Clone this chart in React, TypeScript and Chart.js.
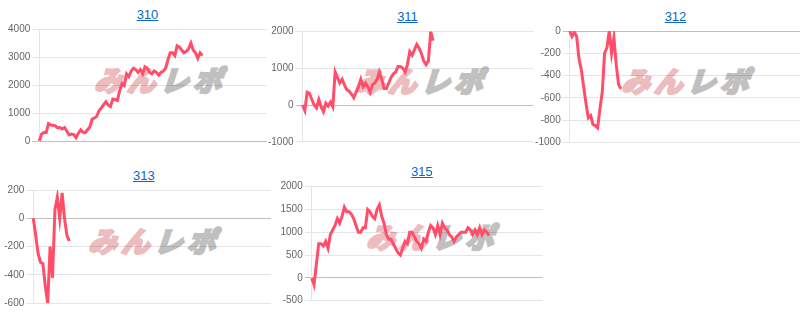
import React, { useEffect, useRef } from "react";
import { Chart, registerables } from "chart.js";

Chart.register(...registerables);

// ---- data ----
const titles = ["310", "311", "312", "313", "315"];

const xLabels: string[] = Array.from({ length: 100 }, (_, i) => String(i + 1));

const series310 = [
  0, 250, 300, 300, 620, 570, 560, 540, 470, 480, 430, 480, 350, 220, 250, 230,
  120, 280, 400, 320, 300, 400, 500, 780, 820, 880, 1080, 1180, 1300, 1400, 1280,
  1230, 1500, 1480, 1450, 1800, 2050, 1980, 2400, 2300, 2500, 2600, 2550, 2450,
  2550, 2400, 2650, 2600, 2450, 2400, 2500, 2450, 2350, 2450, 2500, 2600, 2900,
  3150, 3150, 3050, 3400, 3350, 3250, 3150, 3200, 3300, 3500, 3250, 3150, 2950,
  3150, 3050,
];

const series311 = [
  0, -150, 350, 320, 150, 0, -80, 150, -50, -180, 50, -30, 80, -50, 900, 750, 600,
  700, 550, 420, 380, 300, 200, 350, 500, 700, 500, 600, 500, 350, 550, 600, 700,
  900, 700, 450, 450, 600, 750, 850, 900, 1050, 1050, 1000, 900, 1100, 1450, 1350,
  1500, 1650, 1550, 1400, 1200, 1100, 1200, 2000, 1750,
];

const series312 = [
  0, -50, -10, -50, -250, -350, -500, -650, -780, -760, -840, -850, -870, -700,
  -550, -200, -150, 0, -200, -60, -300, -480, -520,
];

const series313 = [
  0, -120, -250, -310, -320, -480, -600, -200, -420, 60, 150, 0, 180, 0, -120, -160,
];

const series315 = [
  0, -150, 300, 750, 750, 700, 800, 650, 950, 1050, 1150, 1300, 1200, 1350, 1550,
  1450, 1450, 1400, 1300, 1150, 1000, 1000, 1100, 1100, 1500, 1450, 1350, 1300,
  1500, 1600, 1350, 1200, 950, 850, 850, 750, 650, 550, 500, 650, 800, 750, 1000,
  1000, 900, 800, 750, 650, 850, 800, 1000, 1150, 1100, 950, 1150, 950, 1200, 1100,
  1050, 950, 900, 800, 900, 950, 1000, 1000, 1000, 1100, 1050, 950, 1050, 950, 1100,
  950, 1050, 1000, 930,
];

const allSeries = [series310, series311, series312, series313, series315];
const yMins = [0, -1000, -1000, -600, -500];
const yMaxs = [4000, 2000, 0, 200, 2000];
const ySteps = [1000, 1000, 200, 200, 500];

// ---- layout (pixels on the page) ----
const boxes = [
  { axisX: 39.3, top: 29, right: 266.7, bottom: 141, titleX: 147.5, logoX: 163.5, logoY: 79 },
  { axisX: 302.5, top: 31.5, right: 533.3, bottom: 141.8, titleX: 407.5, logoX: 425, logoY: 79.5 },
  { axisX: 569.7, top: 31, right: 800, bottom: 142.3, titleX: 675.5, logoX: 691, logoY: 79.5 },
  { axisX: 33.3, top: 190, right: 271, bottom: 303.3, titleX: 143.8, logoX: 157.5, logoY: 239.5 },
  { axisX: 311.7, top: 186.7, right: 542.7, bottom: 300.7, titleX: 422, logoX: 436, logoY: 235.5 },
];

const FONT = "'Liberation Sans', Arial, Helvetica, sans-serif";
const LINE = "rgb(255, 77, 106)";
const PINK = "rgb(236, 188, 190)";
const GREY = "rgb(192, 192, 192)";

function MiniChart({ idx }: { idx: number }) {
  const ref = useRef<HTMLCanvasElement>(null);
  const box = boxes[idx];
  const canvasLeft = Math.floor(box.axisX - 40);
  const canvasTop = Math.floor(box.top - 10);
  const canvasRight = Math.ceil(box.right);
  const canvasBottom = Math.ceil(box.bottom + 10);
  const w = canvasRight - canvasLeft;
  const h = canvasBottom - canvasTop;

  useEffect(() => {
    const chart = new Chart(ref.current as HTMLCanvasElement, {
      type: "line",
      data: {
        labels: xLabels,
        datasets: [
          {
            data: allSeries[idx],
            borderColor: LINE,
            backgroundColor: LINE,
            borderWidth: 3,
            pointRadius: 0,
            fill: false,
            tension: 0,
          },
        ],
      },
      options: {
        responsive: false,
        animation: false,
        layout: {
          padding: {
            left: 0,
            right: canvasRight - box.right,
            top: box.top - canvasTop,
            bottom: canvasBottom - box.bottom,
          },
        },
        plugins: {
          legend: { display: false },
          tooltip: { enabled: false },
          title: { display: false },
        },
        scales: {
          x: { display: false },
          y: {
            min: yMins[idx],
            max: yMaxs[idx],
            ticks: {
              stepSize: ySteps[idx],
              color: "#666",
              font: { family: FONT, size: 10 },
              padding: 2,
              callback: (v: any) => String(v),
            },
            grid: {
              color: (c: any) =>
                c.tick && c.tick.value === 0 ? "rgba(0,0,0,0.25)" : "rgba(0,0,0,0.1)",
              tickLength: 7,
            },
            border: { color: "rgba(0,0,0,0.1)" },
            afterFit: (s: any) => {
              s.width = box.axisX - canvasLeft;
            },
          },
        },
      },
    });
    return () => chart.destroy();
  }, []);

  return (
    <>
      <div
        style={{
          position: "absolute",
          left: box.logoX,
          top: box.logoY,
          transform: "translate(-50%, -50%) skewX(-18deg)",
          whiteSpace: "nowrap",
          fontFamily: "'Noto Sans CJK JP', sans-serif",
          fontWeight: 700,
          fontSize: 28,
          lineHeight: "28px",
          letterSpacing: 5,
        }}
      >
        <span
          style={{
            color: PINK,
            WebkitTextStroke: "3px " + PINK,
            paintOrder: "stroke fill",
          }}
        >
          みん
        </span>
        <span
          style={{
            color: GREY,
            WebkitTextStroke: "3px " + GREY,
            paintOrder: "stroke fill",
          }}
        >
          レポ
        </span>
      </div>
      <div
        style={{
          position: "absolute",
          left: box.titleX - 40,
          width: 80,
          top: box.top - 22.5,
          textAlign: "center",
          fontFamily: FONT,
          fontSize: 13,
          lineHeight: "15px",
          color: "#0b66c9",
          textDecoration: "underline",
        }}
      >
        {titles[idx]}
      </div>
      <canvas
        ref={ref}
        width={w}
        height={h}
        style={{
          position: "absolute",
          left: canvasLeft,
          top: canvasTop,
          width: w,
          height: h,
        }}
      />
    </>
  );
}

export default function App() {
  return (
    <div
      style={{
        position: "absolute",
        left: 0,
        top: 0,
        width: 800,
        height: 316,
        overflow: "hidden",
        background: "#fff",
      }}
    >
      {titles.map((_, i) => (
        <MiniChart key={i} idx={i} />
      ))}
    </div>
  );
}
